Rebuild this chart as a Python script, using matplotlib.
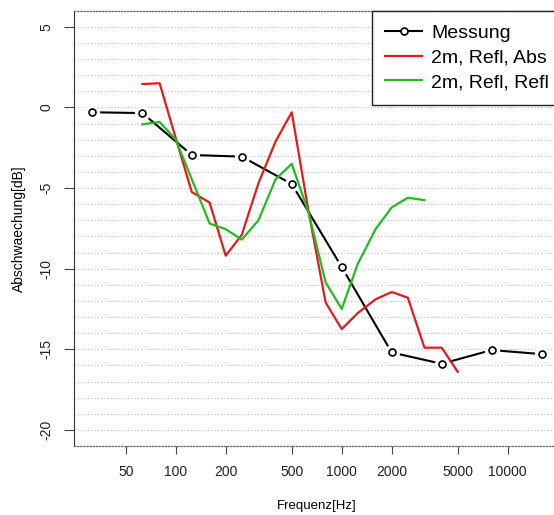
import matplotlib
matplotlib.use("Agg")
import matplotlib.pyplot as plt

plt.rcParams["font.family"] = ["Liberation Sans", "DejaVu Sans"]

# Messung (Oktavbaender)
freq_mess = [31.5, 63, 125, 250, 500, 1000, 2000, 4000, 8000, 16000]
messung = [-0.3, -0.35, -2.95, -3.05, -4.75, -9.9, -15.2, -15.9, -15.05, -15.3]

# Simulation (Terzbaender)
freq_terz = [63, 80, 100, 125, 160, 200, 250, 315, 400, 500,
             630, 800, 1000, 1250, 1600, 2000, 2500, 3150, 4000, 5000]
refl_abs = [1.45, 1.5, -1.9, -5.25, -5.9, -9.2, -7.9, -4.7, -2.1, -0.3,
            -6.4, -12.1, -13.75, -12.75, -11.9, -11.45, -11.8, -14.9, -14.9, -16.4]
refl_refl = [-1.05, -0.9, -2.0, -4.45, -7.2, -7.55, -8.2, -7.0, -4.45, -3.5,
             -6.5, -10.85, -12.5, -9.7, -7.55, -6.2, -5.6, -5.75]

xticks = [50, 100, 200, 500, 1000, 2000, 5000, 10000]
yticks = [-20, -15, -10, -5, 0, 5]
grid_y = list(range(-21, 7))

labels = ["Messung", "2m, Refl, Abs", "2m, Refl, Refl"]

fig = plt.figure(figsize=(5.54, 5.15), dpi=100)
ax = fig.add_axes([74.3 / 554, 69 / 515, 485.2 / 554, 435.3 / 515])

for g in grid_y:
    ax.axhline(g, color="#bdbdbd", lw=0.8, ls=(0, (1, 2)), zorder=0.5)

l_line, = ax.plot(freq_mess, messung, color="black", lw=1.5, zorder=2)
ax.plot(freq_mess, messung, ls="none", marker="o", ms=11, mfc="white",
        mec="none", zorder=2.1)
l_mark, = ax.plot(freq_mess, messung, ls="none", marker="o", ms=5, mfc="white",
                  mec="black", mew=1.2, zorder=2.2)
l_red, = ax.plot(freq_terz, refl_abs, color="#e41a1c", lw=1.6, zorder=3)
l_green, = ax.plot(freq_terz[:len(refl_refl)], refl_refl, color="#22bb22", lw=1.6, zorder=3.1)

ax.set_xscale("log")
ax.set_xlim(24.5, 20500)
ax.set_ylim(-21, 6)
ax.set_xticks(xticks)
ax.set_xticklabels([str(t) for t in xticks], fontsize=10, color="#222222")
ax.minorticks_off()
ax.set_yticks(yticks)
ax.set_yticklabels([str(t) for t in yticks], fontsize=10, color="#222222",
                   rotation=90, va="center")
ax.tick_params(axis="x", length=6, width=0.8, pad=8, color="#444444")
ax.tick_params(axis="y", length=7, width=0.8, pad=8, color="#444444")

ax.spines["right"].set_visible(False)
ax.spines["left"].set_color("#333333")
for s in ["top", "bottom"]:
    ax.spines[s].set_linestyle((0, (1, 1.5)))
    ax.spines[s].set_color("#666666")
    ax.spines[s].set_linewidth(0.9)

ax.set_xlabel("Frequenz[Hz]", fontsize=9.5, labelpad=15)
ax.set_ylabel("Abschwaechung[dB]", fontsize=10, labelpad=10)

leg = ax.legend([(l_line, l_mark), l_red, l_green], labels,
                loc="upper left", bbox_to_anchor=(371.7 / 554, 1 - 10.7 / 515),
                bbox_transform=fig.transFigure, fontsize=14, fancybox=False,
                framealpha=1, edgecolor="#222222", borderaxespad=0,
                borderpad=0.7, handlelength=1.9, handletextpad=0.45,
                labelspacing=0.36)
leg.get_frame().set_linewidth(1.0)
leg.set_zorder(5)

fig.savefig("out.png", dpi=100)
